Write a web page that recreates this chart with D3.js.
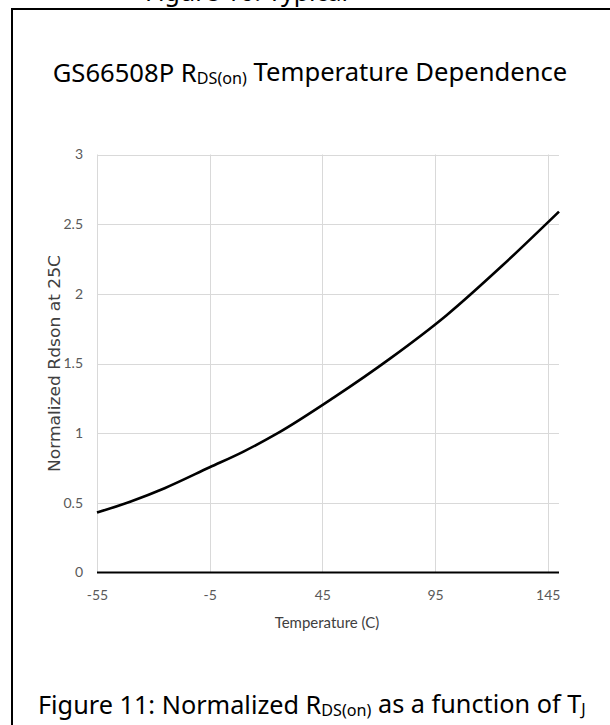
<!DOCTYPE html>
<html><head><meta charset="utf-8">
<script src="https://cdn.jsdelivr.net/npm/d3@7"></script>
<style>html,body{margin:0;padding:0;background:#fff;}svg{display:block;}</style>
</head><body>
<svg id="c" width="610" height="725"></svg>
<script>
const temps = [-55, -40, -25, -5, 10, 25, 50, 75, 100, 125, 150];
const rdson = [0.43, 0.51, 0.605, 0.755, 0.868, 0.998, 1.255, 1.535, 1.845, 2.205, 2.59];
const xTicks = [-55, -5, 45, 95, 145];
const yTicks = [0, 0.5, 1, 1.5, 2, 2.5, 3];
const titleMain = "GS66508P R";
const titleSub = "DS(on)";
const titleRest = " Temperature Dependence";
const xLabel = "Temperature (C)";
const yLabel = "Normalized Rdson at 25C";
const prevCaption = "Figure 10: Typical";

const svg = d3.select("#c");
const narrow = "Lato,'Open Sans',sans-serif";
const myriad = "'Noto Sans','Open Sans',sans-serif";

// cut-off caption of the previous figure (only its lower part shows in the reference)
svg.append("text").attr("x",145).attr("y",1).attr("font-family",myriad).attr("font-size",25).attr("fill","#000").text(prevCaption);

// frame
svg.append("line").attr("x1",12).attr("x2",12).attr("y1",8).attr("y2",725).attr("stroke","#000").attr("stroke-width",2);
svg.append("line").attr("x1",11).attr("x2",610).attr("y1",9).attr("y2",9).attr("stroke","#000").attr("stroke-width",2);

const x = d3.scaleLinear().domain([-55,150]).range([97,559]);
const y = d3.scaleLinear().domain([0,3]).range([572.5,154.5]);

// gridlines
svg.append("g").selectAll("line").data(yTicks.filter(d=>d>0)).join("line")
  .attr("x1",x(-55)).attr("x2",x(150)).attr("y1",d=>Math.round(y(d))+0.5).attr("y2",d=>Math.round(y(d))+0.5)
  .attr("stroke","#d9d9d9").attr("stroke-width",1);
svg.append("g").selectAll("line").data(xTicks).join("line")
  .attr("x1",d=>Math.round(x(d))+0.5).attr("x2",d=>Math.round(x(d))+0.5).attr("y1",y(3)).attr("y2",y(0))
  .attr("stroke","#d9d9d9").attr("stroke-width",1);

// x axis
const xAxis = d3.axisBottom(x).tickValues(xTicks).tickSize(0).tickPadding(18).tickFormat(d=>String(d));
const gx = svg.append("g").attr("transform",`translate(0,${y(0)})`).call(xAxis);
gx.select(".domain").remove();
gx.selectAll("text").attr("font-family",narrow).attr("font-size",14).attr("fill","#595959");
svg.append("line").attr("x1",x(-55)).attr("x2",x(150)).attr("y1",y(0)).attr("y2",y(0)).attr("stroke","#000").attr("stroke-width",2);

// y axis
const yAxis = d3.axisLeft(y).tickValues(yTicks).tickSize(0).tickPadding(14).tickFormat(d=>String(d));
const gy = svg.append("g").attr("transform",`translate(${x(-55)},0)`).call(yAxis);
gy.select(".domain").remove();
gy.selectAll("text").attr("font-family",narrow).attr("font-size",14).attr("fill","#595959");

// line
const pts = temps.map((t,i)=>[t,rdson[i]]);
svg.append("path").datum(pts)
  .attr("d",d3.line().curve(d3.curveMonotoneX).x(d=>x(d[0])).y(d=>y(d[1])))
  .attr("fill","none").attr("stroke","#000").attr("stroke-width",2.6).attr("stroke-linejoin","round");

// axis titles
svg.append("text").attr("x",327).attr("y",628).attr("text-anchor","middle")
  .attr("font-family",narrow).attr("font-size",15).attr("fill","#404040").text(xLabel);
svg.append("text").attr("transform","translate(60,363.5) rotate(-90)").attr("text-anchor","middle")
  .attr("font-family","'DejaVu Sans',sans-serif").attr("font-size",16.5).attr("fill","#404040")
  .attr("textLength",217).attr("lengthAdjust","spacingAndGlyphs").text(yLabel);

// helper: fit a text's font size to a target width
function fit(sel, target){
  const fs = +sel.attr("font-size");
  const w = sel.node().getBBox().width;
  sel.attr("font-size", fs*target/w);
}

// chart title
const t = svg.append("text").attr("x",310).attr("y",82).attr("text-anchor","middle")
  .attr("font-family",myriad).attr("font-size",24).attr("fill","#000");
t.append("tspan").text(titleMain);
t.append("tspan").attr("font-size","0.63em").attr("dy","0.12em").text(titleSub);
t.append("tspan").attr("dy","-0.12em").text(titleRest);
fit(t, 515);

// caption
const capMain = "Figure 11: Normalized R";
const capSub = "DS(on)";
const capRest = " as a function of T";
const capSub2 = "J";
const c = svg.append("text").attr("x",38).attr("y",714)
  .attr("font-family",myriad).attr("font-size",25).attr("fill","#000");
c.append("tspan").text(capMain);
c.append("tspan").attr("font-size","0.64em").attr("dy","0.12em").text(capSub);
c.append("tspan").attr("dy","-0.12em").text(capRest);
c.append("tspan").attr("font-size","0.64em").attr("dy","0.12em").text(capSub2);
fit(c, 548);
</script>
</body></html>
